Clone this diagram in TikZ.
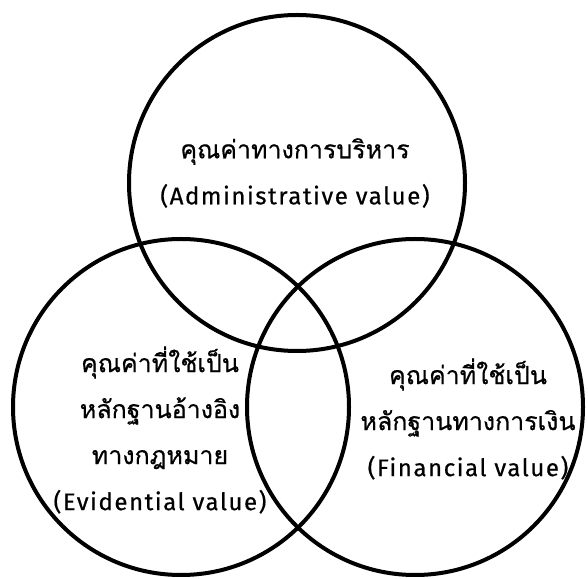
\documentclass[tikz,border=0pt]{standalone}
\usepackage{fontspec}
\setmainfont[LetterSpace=6.5,FakeBold=0.6]{Fira Sans}
\newfontfamily\thaifont[Script=Thai,FakeBold=0.6]{Loma}
\newcommand{\thline}[1]{{\thaifont\fontsize{25}{46}\selectfont #1}}
\usepackage{tikz}
\usetikzlibrary{positioning}

\begin{document}
\begin{tikzpicture}[x=1pt,y=1pt]
  \tikzstyle{ring}=[circle, draw, line width=4pt, minimum size=336pt, inner sep=0pt]
  \tikzstyle{label}=[align=center, font=\fontsize{24}{46}\selectfont]
  \useasboundingbox (0,0) rectangle (588,578);

  \node[ring] (admin) at (297,395) {};
  \node[ring] (evid) at (181,171) {};
  \node[ring] (fin) at (415,171) {};

  \node[label] (admintext) at (295,405) {\thline{คุณค่าทางการบริหาร}\\(Administrative value)};
  \node[label] (evidtext) at (160,148) {\thline{คุณค่าที่ใช้เป็น}\\\thline{หลักฐานอ้างอิง}\\\thline{ทางกฎหมาย}\\(Evidential value)};
  \node[label] (fintext) at (468,159) {\thline{คุณค่าที่ใช้เป็น}\\\thline{หลักฐานทางการเงิน}\\(Financial value)};
\end{tikzpicture}
\end{document}
